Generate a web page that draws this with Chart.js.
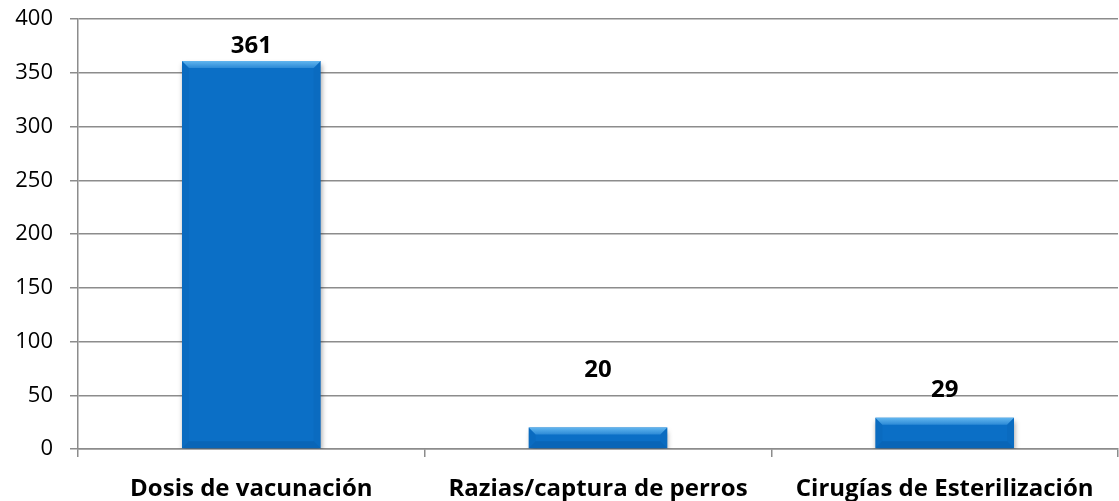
<!DOCTYPE html>
<html>
<head>
<meta charset="utf-8">
<script src="https://cdn.jsdelivr.net/npm/chart.js@4/dist/chart.umd.min.js"></script>
<style>
  html, body { margin: 0; padding: 0; background: #fff; }
  #wrap { width: 1119px; height: 501px; position: relative; }
</style>
</head>
<body>
<div id="wrap"><canvas id="c"></canvas></div>
<script>
const categories = ["Dosis de vacunación", "Razias/captura de perros", "Cirugías de Esterilización"];
const values = [361, 20, 29];
const yTicks = [0, 50, 100, 150, 200, 250, 300, 350, 400];

const FONT = "'Open Sans', Lato, sans-serif";

const bevelPlugin = {
  id: 'bevel',
  beforeDatasetsDraw(chart) {
    const ctx = chart.ctx;
    ctx.save();
    ctx.shadowColor = 'rgba(0,0,0,0.35)';
    ctx.shadowBlur = 5;
    ctx.shadowOffsetX = 1;
    ctx.shadowOffsetY = 3;
  },
  afterDatasetsDraw(chart) {
    const ctx = chart.ctx;
    ctx.restore();
    const meta = chart.getDatasetMeta(0);
    meta.data.forEach((bar) => {
      const l = bar.x - bar.width / 2, r = bar.x + bar.width / 2;
      const t = bar.y, b = bar.base;
      const h = b - t;
      const d = Math.min(7, h / 2.5);
      ctx.save();
      ctx.fillStyle = 'rgba(0,50,110,0.07)';
      ctx.beginPath(); ctx.moveTo(l, t); ctx.lineTo(l + d, t + d); ctx.lineTo(l + d, b - d); ctx.lineTo(l, b); ctx.closePath(); ctx.fill();
      ctx.beginPath(); ctx.moveTo(r, t); ctx.lineTo(r - d, t + d); ctx.lineTo(r - d, b - d); ctx.lineTo(r, b); ctx.closePath(); ctx.fill();
      const g = ctx.createLinearGradient(0, t, 0, t + d);
      g.addColorStop(0, '#62b6ef');
      g.addColorStop(1, '#2c8ad6');
      ctx.fillStyle = g;
      ctx.beginPath(); ctx.moveTo(l, t); ctx.lineTo(r, t); ctx.lineTo(r - d, t + d); ctx.lineTo(l + d, t + d); ctx.closePath(); ctx.fill();
      ctx.fillStyle = 'rgba(0,40,90,0.14)';
      ctx.beginPath(); ctx.moveTo(l, b); ctx.lineTo(r, b); ctx.lineTo(r - d, b - d); ctx.lineTo(l + d, b - d); ctx.closePath(); ctx.fill();
      ctx.restore();
    });
  }
};

const valueLabelPlugin = {
  id: 'valueLabels',
  afterDatasetsDraw(chart, args, opts) {
    const ctx = chart.ctx;
    const meta = chart.getDatasetMeta(0);
    ctx.save();
    ctx.font = opts.font;
    ctx.fillStyle = '#000';
    ctx.textAlign = 'center';
    ctx.textBaseline = 'alphabetic';
    meta.data.forEach((bar, i) => {
      ctx.fillText(String(chart.data.datasets[0].data[i]), bar.x, bar.y - opts.gaps[i]);
    });
    ctx.restore();
  }
};

new Chart(document.getElementById('c'), {
  type: 'bar',
  data: {
    labels: categories,
    datasets: [{
      data: values,
      backgroundColor: '#0b6fc6',
      borderWidth: 0,
      categoryPercentage: 1.0,
      barPercentage: 0.4
    }]
  },
  options: {
    responsive: true,
    maintainAspectRatio: false,
    animation: false,
    devicePixelRatio: 1,
    layout: { padding: { top: 19, right: 1, left: 0, bottom: 0 } },
    plugins: {
      legend: { display: false },
      tooltip: { enabled: false },
      valueLabels: { font: "bold 24px " + FONT, gaps: [8, 51, 21] }
    },
    scales: {
      x: {
        grid: { display: true, drawOnChartArea: false, drawTicks: true, tickLength: 8, color: '#8c8c8c', lineWidth: 1.5, offset: true },
        border: { display: true, color: '#8c8c8c', width: 1.5 },
        ticks: { color: '#000', font: { family: FONT, size: 24, weight: 'bold' }, padding: 18, maxRotation: 0, autoSkip: false },
        afterFit(scale) { scale.height = 52; scale.paddingLeft = 0; scale.paddingRight = 0; }
      },
      y: {
        min: 0, max: 400,
        afterBuildTicks(scale) { scale.ticks = yTicks.map(v => ({ value: v })); },
        grid: { color: '#8c8c8c', lineWidth: 1.5, tickLength: 8, drawTicks: true },
        border: { display: true, color: '#8c8c8c', width: 1.5 },
        ticks: { color: '#000', font: { family: FONT, size: 22 }, padding: 17 },
        afterFit(scale) { scale.width = 78; scale.paddingTop = 0; scale.paddingBottom = 0; }
      }
    }
  },
  plugins: [bevelPlugin, valueLabelPlugin]
});
</script>
</body>
</html>
